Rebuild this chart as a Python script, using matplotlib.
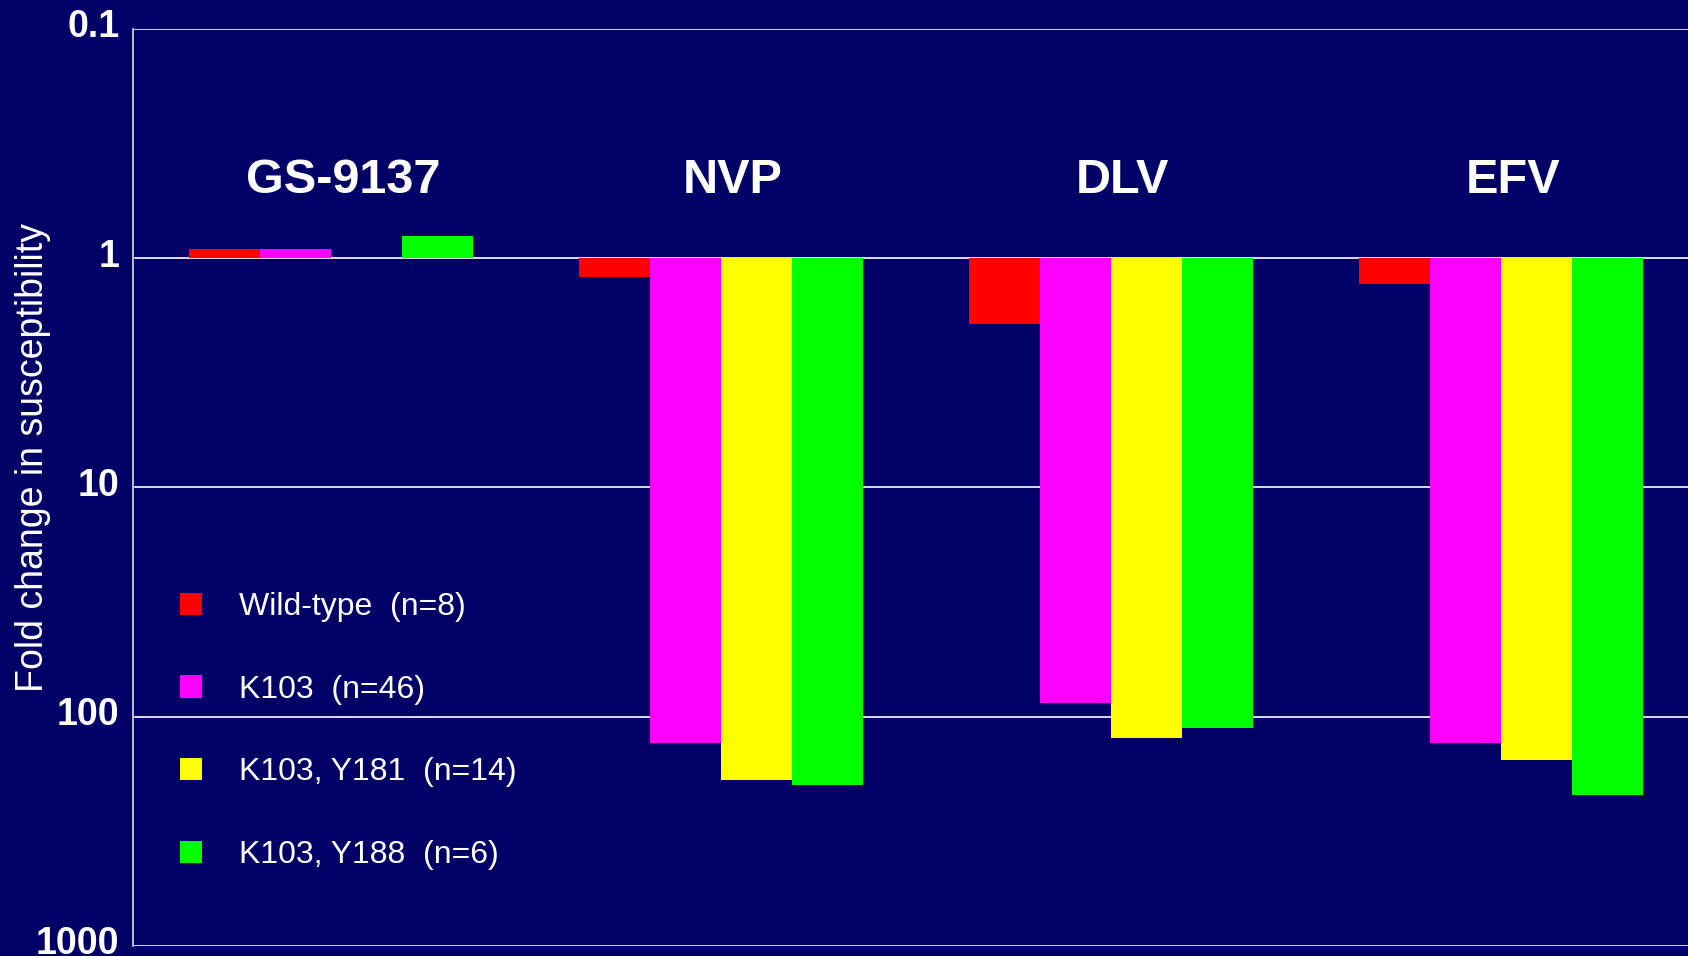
import numpy as np
import matplotlib.pyplot as plt
from matplotlib.patches import Patch
from matplotlib.ticker import FixedLocator, NullLocator
from matplotlib.transforms import ScaledTranslation

plt.rcParams['font.family'] = ['Liberation Sans', 'DejaVu Sans']

drugs = ["GS-9137", "NVP", "DLV", "EFV"]
series = ["Wild-type  (n=8)", "K103  (n=46)", "K103, Y181  (n=14)", "K103, Y188  (n=6)"]
colors = ["#ff0000", "#ff00ff", "#ffff00", "#00ff00"]

# fold change in susceptibility per drug, one list per mutant group
wild_type = [0.91, 1.21, 1.94, 1.30]
k103 = [0.91, 130, 87, 130]
k103_y181 = [1.0, 188, 124, 154]
k103_y188 = [0.80, 198, 112, 219]

tick_vals = [0.1, 1, 10, 100, 1000]
tick_labels = ["0.1", "1", "10", "100", "1000"]

bg = "#000066"
fig = plt.figure(figsize=(16.88, 9.56), dpi=100, facecolor=bg)
ax = fig.add_axes([0.0788, 0.0105, 0.9212, 0.9592], facecolor=bg)

x = np.arange(len(drugs))
w = 0.182
for i, (vals, c) in enumerate(zip([wild_type, k103, k103_y181, k103_y188], colors)):
    vals = np.array(vals)
    ax.bar(x + (i - 1.5) * w, vals - 1, bottom=1, width=w, color=c,
           linewidth=0, zorder=3)

ax.set_yscale("log")
ax.set_ylim(1000, 0.1)
ax.set_xlim(-0.508, 3.479)

ax.yaxis.set_major_locator(FixedLocator(tick_vals))
ax.yaxis.set_minor_locator(NullLocator())
ax.set_yticklabels(tick_labels, fontsize=27, fontweight="bold", color="white")
ax.tick_params(axis="y", length=0, pad=10)
ax.set_xticks([])
# nudge the tick labels up a little
shift = ScaledTranslation(0, 4 / 72, fig.dpi_scale_trans)
for lab in ax.get_yticklabels():
    lab.set_transform(lab.get_transform() + shift)

for v in tick_vals:
    ax.axhline(v, color="white", lw=1.2, zorder=2, xmin=0.001)

for s in ["top", "right", "bottom"]:
    ax.spines[s].set_visible(False)
ax.spines["left"].set_color("#dddddd")
ax.spines["left"].set_linewidth(1.2)

ax.set_ylabel("Fold change in susceptibility", fontsize=27, color="white", va="center")
ax.yaxis.set_label_coords(-0.064, 0.533)

for xi, name in zip(x, drugs):
    ax.text(xi + 0.03, 0.458, name, fontsize=35, fontweight="bold",
            color="white", ha="center", va="center", zorder=4)

handles = [Patch(facecolor=c, edgecolor="none") for c in colors]
leg = ax.legend(handles, series, loc="upper left", bbox_to_anchor=(0.022, 0.40),
                frameon=False, fontsize=23, labelcolor="white",
                handlelength=0.7, handleheight=0.7, handletextpad=1.15,
                labelspacing=1.65, borderaxespad=0)

fig.savefig("out.png", dpi=100, facecolor=bg)
